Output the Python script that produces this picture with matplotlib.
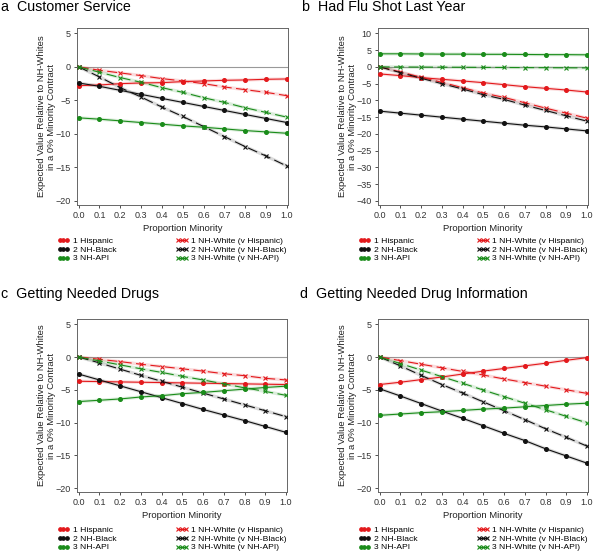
import numpy as np
import matplotlib
matplotlib.use("Agg")
import matplotlib.pyplot as plt
from matplotlib.lines import Line2D

plt.rcParams['font.family'] = ['Liberation Sans', 'DejaVu Sans']

# proportion minority in contract
prop = [0.0, 0.1, 0.2, 0.3, 0.4, 0.5, 0.6, 0.7, 0.8, 0.9, 1.0]

titles = ["a  Customer Service", "b  Had Flu Shot Last Year",
          "c  Getting Needed Drugs", "d  Getting Needed Drug Information"]

labels_minority = ["1 Hispanic", "2 NH-Black", "3 NH-API"]
labels_white = ["1 NH-White (v Hispanic)", "2 NH-White (v NH-Black)", "3 NH-White (v NH-API)"]

# a  Customer Service
a_hisp = [-2.8, -2.7, -2.5, -2.4, -2.35, -2.2, -2.1, -2.0, -1.95, -1.85, -1.8]
a_wh_hisp = [0, -0.5, -0.9, -1.3, -1.75, -2.1, -2.5, -3.0, -3.4, -3.8, -4.3]
a_black = [-2.4, -2.9, -3.5, -4.1, -4.7, -5.3, -5.9, -6.5, -7.1, -7.7, -8.3]
a_wh_black = [0, -1.5, -3.1, -4.5, -6.0, -7.4, -8.9, -10.4, -11.9, -13.3, -14.8]
a_api = [-7.6, -7.8, -8.05, -8.3, -8.55, -8.8, -9.0, -9.25, -9.5, -9.7, -9.9]
a_wh_api = [0, -0.8, -1.6, -2.3, -3.1, -3.8, -4.6, -5.3, -6.1, -6.8, -7.5]

# b  Had Flu Shot Last Year
b_hisp = [-2.1, -2.6, -3.2, -3.7, -4.2, -4.7, -5.3, -5.9, -6.4, -6.9, -7.5]
b_wh_hisp = [0, -1.5, -3.1, -4.6, -6.2, -7.8, -9.1, -10.7, -12.3, -13.8, -15.3]
b_black = [-13.2, -13.8, -14.4, -15.0, -15.6, -16.2, -16.8, -17.4, -17.9, -18.5, -19.1]
b_wh_black = [0, -1.7, -3.4, -5.0, -6.6, -8.3, -9.7, -11.4, -13.0, -14.6, -16.2]
b_api = [3.9, 3.9, 3.85, 3.8, 3.8, 3.75, 3.75, 3.7, 3.65, 3.65, 3.6]
b_wh_api = [0, -0.03, -0.06, -0.09, -0.12, -0.15, -0.18, -0.21, -0.24, -0.27, -0.3]

# c  Getting Needed Drugs
c_hisp = [-3.7, -3.75, -3.8, -3.85, -3.9, -3.95, -4.0, -4.05, -4.1, -4.15, -4.2]
c_wh_hisp = [0, -0.35, -0.7, -1.1, -1.45, -1.8, -2.15, -2.55, -2.85, -3.25, -3.5]
c_black = [-2.6, -3.5, -4.4, -5.3, -6.2, -7.1, -8.0, -8.85, -9.7, -10.6, -11.5]
c_wh_black = [0, -0.9, -1.85, -2.8, -3.7, -4.6, -5.5, -6.4, -7.3, -8.2, -9.1]
c_api = [-6.8, -6.6, -6.4, -6.1, -5.9, -5.6, -5.4, -5.15, -4.9, -4.65, -4.45]
c_wh_api = [0, -0.6, -1.2, -1.8, -2.35, -2.95, -3.5, -4.1, -4.7, -5.25, -5.85]

# d  Getting Needed Drug Information
d_hisp = [-4.2, -3.85, -3.45, -3.05, -2.6, -2.15, -1.75, -1.35, -0.95, -0.5, -0.1]
d_wh_hisp = [0, -0.55, -1.1, -1.65, -2.2, -2.75, -3.35, -3.9, -4.45, -5.0, -5.55]
d_black = [-4.85, -5.95, -7.1, -8.25, -9.35, -10.5, -11.65, -12.75, -14.0, -15.1, -16.2]
d_wh_black = [0, -1.35, -2.8, -4.2, -5.5, -6.85, -8.2, -9.55, -10.95, -12.25, -13.6]
d_api = [-8.9, -8.7, -8.5, -8.35, -8.15, -7.95, -7.8, -7.6, -7.4, -7.2, -7.05]
d_wh_api = [0, -1.0, -2.0, -3.0, -4.0, -5.05, -6.05, -7.05, -8.05, -9.05, -10.05]

panels = [
    (a_hisp, a_wh_hisp, a_black, a_wh_black, a_api, a_wh_api),
    (b_hisp, b_wh_hisp, b_black, b_wh_black, b_api, b_wh_api),
    (c_hisp, c_wh_hisp, c_black, c_wh_black, c_api, c_wh_api),
    (d_hisp, d_wh_hisp, d_black, d_wh_black, d_api, d_wh_api),
]
yticks = [
    [5, 0, -5, -10, -15, -20],
    [10, 5, 0, -5, -10, -15, -20, -25, -30, -35, -40],
    [5, 0, -5, -10, -15, -20],
    [5, 0, -5, -10, -15, -20],
]
ylims = [(-20.6, 5.8), (-41.2, 11.6), (-20.6, 5.8), (-20.6, 5.8)]

colors = ["#e3191c", "#111111", "#1a8c1a"]

W, H = 593, 554
fig = plt.figure(figsize=(W / 100, H / 100), dpi=100)

# axes boxes in pixels: left, top, right, bottom
boxes = [(77, 28, 288, 205), (378, 28, 588, 205),
         (77, 319, 287, 492), (378, 319, 588, 492)]
title_pos = [(1, 7), (302, 7), (1, 294), (300, 294)]
legend_pos = [(57, 237), (358, 237), (57, 526), (358, 526)]


def px(x, y):
    return x / W, 1 - y / H


for i, series in enumerate(panels):
    l, t, r, b = boxes[i]
    ax = fig.add_axes([l / W, 1 - b / H, (r - l) / W, (b - t) / H])
    ax.axhline(0, color="#999999", lw=0.8, zorder=1)
    for k in range(3):
        minority = series[2 * k]
        white = series[2 * k + 1]
        c = colors[k]
        # faint halo behind each line
        ax.plot(prop, minority, color=c, lw=2.4, alpha=0.15, zorder=2)
        ax.plot(prop, white, color=c, lw=2.4, alpha=0.15, zorder=2)
        ax.plot(prop, minority, color=c, lw=0.8, marker="o", ms=2.6, zorder=3)
        ax.plot(prop, white, color=c, lw=0.8, ls=(0, (9, 4)), marker="x",
                ms=3.2, mew=0.8, zorder=3)
    ax.set_xlim(-0.008, 1.005)
    ax.set_ylim(*ylims[i])
    ax.set_xticks(prop)
    ax.set_xticklabels(["%.1f" % v for v in prop])
    ax.set_yticks(yticks[i])
    ax.tick_params(labelsize=6.5, length=2.5, width=0.6, colors="#333333", pad=2)
    for s in ax.spines.values():
        s.set_linewidth(0.7)
        s.set_color("#666666")
    ax.set_xlabel("Proportion Minority", fontsize=6.8, color="#222222", labelpad=3)
    ax.set_ylabel("Expected Value Relative to NH-Whites\nin a 0% Minority Contract",
                  fontsize=6.8, color="#222222", linespacing=1.1)
    ax.yaxis.set_label_coords(-0.1, 0.5)

    fig.text(*px(*title_pos[i]), titles[i], fontsize=10.3, va="center", ha="left")

    handles = []
    for k in range(3):
        handles.append(Line2D([0], [0], color=colors[k], lw=0.8, marker="o", ms=2.4))
    for k in range(3):
        handles.append(Line2D([0], [0], color=colors[k], lw=0.8, marker="x", ms=3.0, mew=0.8))
    ax.legend(handles, labels_minority + labels_white, ncol=2, loc="upper left",
              bbox_to_anchor=px(*legend_pos[i]), bbox_transform=fig.transFigure,
              frameon=False, fontsize=6.1, numpoints=3, handlelength=1.5,
              handletextpad=0.35, labelspacing=0.1, columnspacing=7.0,
              borderpad=0, borderaxespad=0)

fig.savefig("out.png", dpi=100)
